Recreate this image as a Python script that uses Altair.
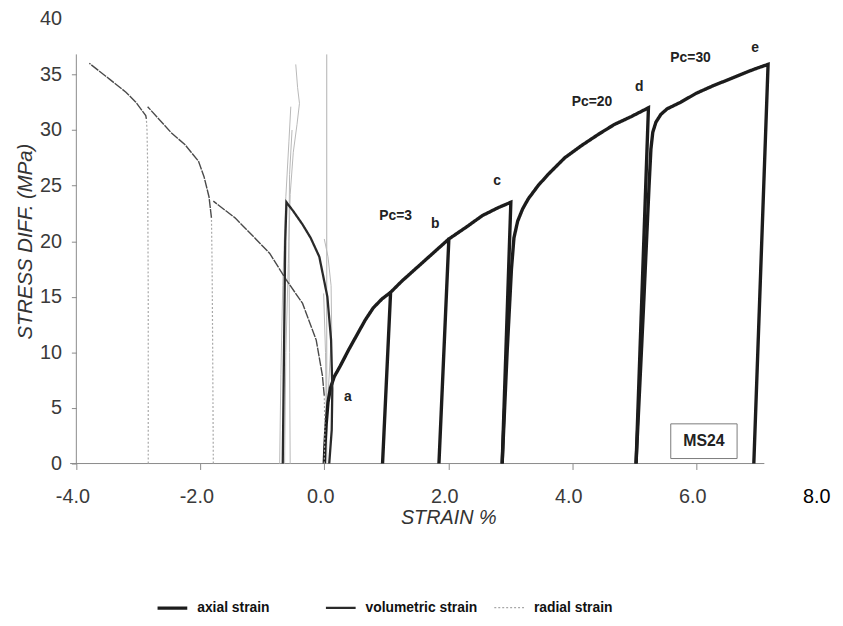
import altair as alt
import pandas as pd

# ---------------- data ----------------
# axial strain (thick black), one polyline per loading stage
axial_a_x = [0.0, 0.01, 0.03, 0.06, 0.10, 0.16, 0.26, 0.40, 0.53, 0.66, 0.79, 0.93, 1.07]
axial_a_y = [0.0, 1.5, 3.5, 5.5, 6.8, 7.8, 8.8, 10.3, 11.6, 12.9, 14.0, 14.8, 15.4]
axial_b_x = [0.94, 1.07, 1.25, 1.49, 1.75, 2.01]
axial_b_y = [0.0, 15.4, 16.4, 17.6, 18.9, 20.2]
axial_c_x = [1.85, 2.01, 2.30, 2.55, 2.80, 3.01, 2.87]
axial_c_y = [0.0, 20.2, 21.3, 22.3, 23.0, 23.5, 0.0]
axial_d_x = [2.87, 2.95, 3.02, 3.06, 3.12, 3.20, 3.29, 3.45, 3.61, 3.88, 4.15, 4.42, 4.68, 4.95, 5.23, 5.03]
axial_d_y = [0.0, 10.0, 17.5, 20.3, 21.8, 22.9, 23.8, 25.0, 26.0, 27.5, 28.6, 29.6, 30.5, 31.2, 32.0, 0.0]
axial_e_x = [5.03, 5.15, 5.24, 5.27, 5.30, 5.35, 5.43, 5.53, 5.75, 6.00, 6.28, 6.55, 6.81, 7.00, 7.16, 6.93]
axial_e_y = [0.0, 14.0, 25.0, 28.3, 29.8, 30.7, 31.4, 31.9, 32.5, 33.3, 34.0, 34.6, 35.2, 35.6, 35.9, 0.0]

# volumetric strain (thin black)
vol_c_x = [0.08, 0.12, 0.13, 0.11, 0.05, -0.08, -0.22, -0.35, -0.50, -0.61, -0.63, -0.65, -0.67]
vol_c_y = [0.0, 3.0, 6.7, 11.1, 15.0, 18.6, 20.3, 21.5, 22.7, 23.5, 20.0, 10.0, 0.0]

# radial strain, near-vertical (light dotted) parts
rad_d_x = [-1.79, -1.80, -1.81, -1.82]
rad_d_y = [0.0, 10.0, 18.0, 22.1]
rad_e_x = [-2.84, -2.84, -2.85, -2.86, -2.87]
rad_e_y = [0.0, 15.0, 27.0, 30.0, 31.0]
rad_c_x = [0.0, 0.01, 0.0]
rad_c_y = [0.0, 3.0, 6.1]

# radial strain, curved (darker) parts
radc_c_x = [0.0, -0.03, -0.13, -0.35, -0.61, -0.88, -1.07, -1.44, -1.79]
radc_c_y = [6.1, 7.9, 11.1, 14.4, 16.5, 18.9, 20.0, 22.1, 23.6]
radc_d_x = [-1.82, -1.86, -1.94, -2.03, -2.25, -2.46, -2.85]
radc_d_y = [22.1, 24.0, 25.8, 27.2, 28.7, 29.7, 32.1]
radc_e_x = [-2.87, -2.88, -3.04, -3.20, -3.47, -3.79]
radc_e_y = [31.0, 31.3, 32.5, 33.4, 34.6, 36.0]

# faint grey traces near zero strain
g1_x = [-0.72, -0.70, -0.67, -0.62, -0.57, -0.54]
g1_y = [0.0, 8.0, 16.0, 24.0, 29.0, 32.1]
g2_x = [-0.64, -0.62, -0.58, -0.55, -0.50, -0.44, -0.40, -0.43, -0.46]
g2_y = [0.0, 10.0, 18.0, 24.2, 28.0, 30.5, 32.4, 33.8, 35.9]
g3_x = [-0.55, -0.56, -0.57, -0.56, -0.52]
g3_y = [0.0, 10.0, 20.0, 26.0, 30.0]
l1_x = [0.01, 0.03, 0.02, -0.01]
l1_y = [0.0, 5.0, 10.0, 15.3]
l2_x = [0.02, 0.06, 0.12, 0.11, 0.06, 0.0]
l2_y = [0.0, 6.0, 12.0, 16.0, 18.6, 20.2]

# annotations
ann_text = ["a", "Pc=3", "b", "c", "Pc=20", "d", "Pc=30", "e"]
ann_x = [0.38, 1.15, 1.79, 2.79, 4.32, 5.08, 5.91, 6.95]
ann_y = [5.97, 22.3, 21.5, 25.4, 32.5, 33.9, 36.45, 37.4]

sample_label = ["MS24"]
sample_box_x = [5.59, 6.66]
sample_box_y = [0.45, 3.57]

x_ticks = [-4, -2, 0, 2, 4, 6, 8]
y_ticks = [0, 5, 10, 15, 20, 25, 30, 35, 40]
x_axis_extent = [-4.1, 7.1]
y_axis_extent = [0, 36.8]
zero_line_x = 0.04

series_names = ["axial strain", "volumetric strain", "radial strain"]

# ---------------- build tables ----------------
def lines(pairs):
    rows = []
    for series, seg, xs, ys in pairs:
        for i, (xv, yv) in enumerate(zip(xs, ys)):
            rows.append({"series": series, "seg": seg, "idx": i, "x": xv, "y": yv})
    return pd.DataFrame(rows)

main_df = lines([
    ("axial strain", "a", axial_a_x, axial_a_y),
    ("axial strain", "b", axial_b_x, axial_b_y),
    ("axial strain", "c", axial_c_x, axial_c_y),
    ("axial strain", "d", axial_d_x, axial_d_y),
    ("axial strain", "e", axial_e_x, axial_e_y),
    ("volumetric strain", "vc", vol_c_x, vol_c_y),
    ("radial strain", "rc", rad_c_x, rad_c_y),
    ("radial strain", "rd", rad_d_x, rad_d_y),
    ("radial strain", "re", rad_e_x, rad_e_y),
])
dark_df = lines([
    ("radial dark", "c", radc_c_x, radc_c_y),
    ("radial dark", "d", radc_d_x, radc_d_y),
    ("radial dark", "e", radc_e_x, radc_e_y),
])
light_df = lines([
    ("light", "g1", g1_x, g1_y),
    ("light", "g2", g2_x, g2_y),
    ("light", "g3", g3_x, g3_y),
    ("light", "l1", l1_x, l1_y),
    ("light", "l2", l2_x, l2_y),
])

axis_df = pd.DataFrame({
    "x": [x_axis_extent[0], -4],
    "x2": [x_axis_extent[1], -4],
    "y": [0, y_axis_extent[0]],
    "y2": [0, y_axis_extent[1]],
})
zero_df = pd.DataFrame({"x": [zero_line_x], "x2": [zero_line_x],
                        "y": [y_axis_extent[0]], "y2": [y_axis_extent[1]]})
ann_df = pd.DataFrame({"label": ann_text, "x": ann_x, "y": ann_y})
box_df = pd.DataFrame({"x": [sample_box_x[0]], "x2": [sample_box_x[1]],
                       "y": [sample_box_y[0]], "y2": [sample_box_y[1]]})
box_text_df = pd.DataFrame({"label": sample_label,
                            "x": [sum(sample_box_x) / 2], "y": [sum(sample_box_y) / 2]})

# ---------------- scales / axes ----------------
FONT = "Liberation Sans"
xscale = alt.Scale(domain=[-4, 8], nice=False, zero=False)
yscale = alt.Scale(domain=[0, 40], nice=False, zero=False)

xaxis = alt.Axis(
    values=x_ticks,
    labelExpr="(datum.value < 0 ? '-' : '') + format(abs(datum.value), '.1f')",
    domain=False, grid=False, labelFlush=False, labelOverlap=False,
    tickSize=6, tickColor="#8a8a8a",
    tickOpacity={"condition": {"test": "datum.value == 8", "value": 0}, "value": 1},
    labelFont=FONT, labelFontSize=20,
    labelColor={"condition": {"test": "datum.value == 8", "value": "#000000"}, "value": "#3a3a3a"},
    labelPadding=17, labelOffset=-4,
    title="STRAIN %", titleFont=FONT, titleFontSize=20, titleFontStyle="italic",
    titleFontWeight="normal", titleColor="#333333", titlePadding=2,
)
yaxis = alt.Axis(
    values=y_ticks,
    domain=False, grid=False, labelFlush=False, labelOverlap=False,
    tickSize=5, tickColor="#8a8a8a",
    tickOpacity={"condition": {"test": "datum.value == 40", "value": 0}, "value": 1},
    labelFont=FONT, labelFontSize=20, labelColor="#3a3a3a", labelPadding=10,
    title="STRESS DIFF. (MPa)", titleFont=FONT, titleFontSize=20.5, titleFontStyle="italic",
    titleFontWeight="normal", titleColor="#333333", titlePadding=4,
)

X = alt.X("x:Q", scale=xscale, axis=xaxis)
Y = alt.Y("y:Q", scale=yscale, axis=yaxis)

legend = alt.Legend(
    title=None, orient="none", legendX=80, legendY=578,
    direction="horizontal", columns=3, gridAlign="all", columnPadding=12,
    symbolType="stroke", symbolSize=900,
    labelFont=FONT, labelFontSize=14, labelFontWeight="bold", labelColor="#111111",
    labelOffset=8, labelLimit=300, padding=0,
)

axes_layer = alt.Chart(axis_df).mark_rule(color="#8a8a8a", strokeWidth=1).encode(
    x=X, x2="x2:Q", y=Y, y2="y2:Q")
zero_layer = alt.Chart(zero_df).mark_rule(color="#b0b0b0", strokeWidth=1).encode(
    x=X, x2="x2:Q", y=Y, y2="y2:Q")

light_layer = alt.Chart(light_df).mark_line(color="#b8b8b8", strokeWidth=1).encode(
    x=X, y=Y, detail="seg:N", order="idx:Q")
dark_layer = alt.Chart(dark_df).mark_line(color="#4a4a4a", strokeWidth=1.4, strokeDash=[9, 1]).encode(
    x=X, y=Y, detail="seg:N", order="idx:Q")

main_layer = alt.Chart(main_df).mark_line(strokeCap="butt", strokeJoin="miter").encode(
    x=X, y=Y,
    color=alt.Color("series:N", scale=alt.Scale(domain=series_names,
                    range=["#1c1c1c", "#2a2a2a", "#a8a8a8"]), legend=legend),
    strokeWidth=alt.StrokeWidth("series:N", scale=alt.Scale(domain=series_names,
                    range=[3.4, 1.2, 1.1]), legend=legend),
    strokeDash=alt.StrokeDash("series:N", scale=alt.Scale(domain=series_names,
                    range=[[1, 0], [1, 0], [2, 2]]), legend=legend),
    detail="seg:N", order="idx:Q",
)

ann_layer = alt.Chart(ann_df).mark_text(font=FONT, fontSize=14, fontWeight="bold",
                                        color="#222222").encode(x=X, y=Y, text="label:N")

box_layer = alt.Chart(box_df).mark_rect(fill="white", stroke="#7a7a7a", strokeWidth=1).encode(
    x=X, x2="x2:Q", y=Y, y2="y2:Q")
box_text = alt.Chart(box_text_df).mark_text(font=FONT, fontSize=16, fontWeight="bold",
                                            color="#222222").encode(x=X, y=Y, text="label:N")

chart = alt.layer(
    axes_layer, zero_layer, light_layer, dark_layer, main_layer,
    ann_layer, box_layer, box_text,
).properties(
    width=751, height=449,
    autosize=alt.AutoSizeParams(type="none"),
    padding={"left": 69, "top": 8, "right": 15, "bottom": 151},
    background="white",
).configure_view(stroke=None)

chart.save("out.html", embed_options={"renderer": "svg", "actions": False})
